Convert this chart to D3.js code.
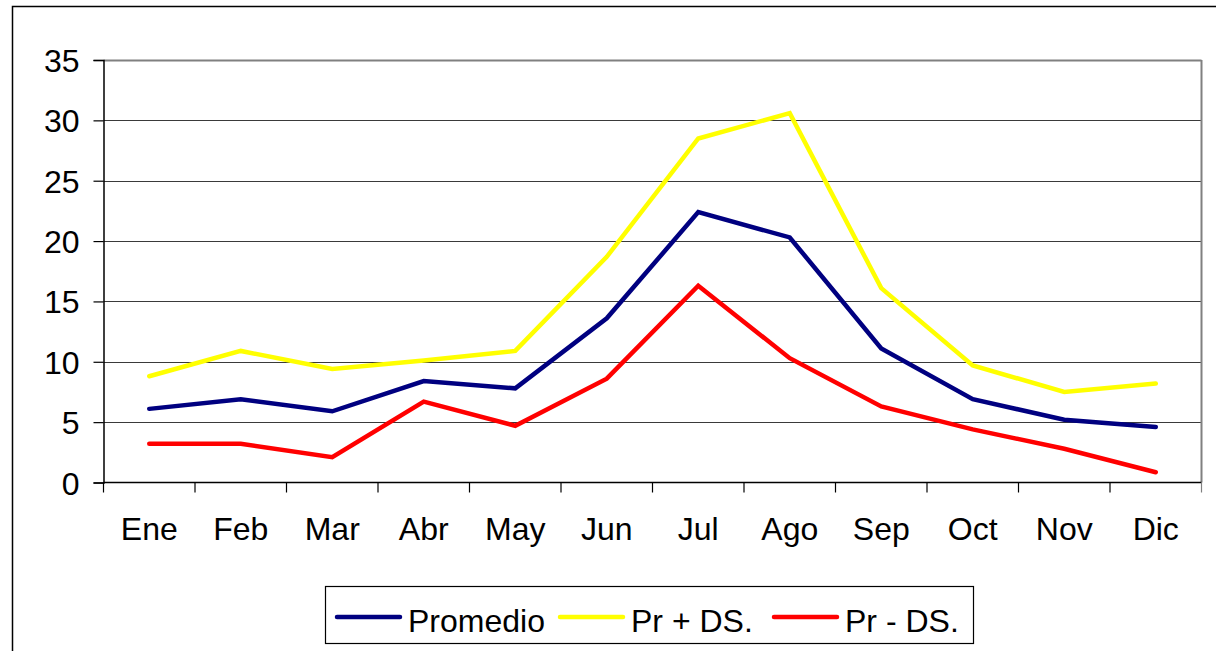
<!DOCTYPE html>
<html>
<head>
<meta charset="utf-8">
<script src="https://cdn.jsdelivr.net/npm/d3@7"></script>
<style>
  html, body { margin: 0; padding: 0; background: #fff; }
  svg { display: block; font-family: "Liberation Sans", Arial, sans-serif; }
</style>
</head>
<body>
<div id="chart"></div>
<script>
// data
const months = ["Ene", "Feb", "Mar", "Abr", "May", "Jun", "Jul", "Ago", "Sep", "Oct", "Nov", "Dic"];
const promedio = [6.1, 6.9, 5.9, 8.4, 7.8, 13.6, 22.4, 20.3, 11.1, 6.9, 5.2, 4.6];
const prMasDs  = [8.8, 10.9, 9.4, 10.1, 10.9, 18.7, 28.5, 30.6, 16.1, 9.7, 7.5, 8.2];
const prMenosDs = [3.2, 3.2, 2.1, 6.7, 4.7, 8.6, 16.3, 10.3, 6.3, 4.4, 2.8, 0.85];
const yTicks = [0, 5, 10, 15, 20, 25, 30, 35];

const series = [
  { name: "Promedio", values: promedio, color: "#000080" },
  { name: "Pr + DS.", values: prMasDs, color: "#ffff00" },
  { name: "Pr - DS.", values: prMenosDs, color: "#ff0000" }
];

const width = 1216, height = 651;
const plot = { left: 103.5, right: 1201.5, top: 60, bottom: 482.5 };

const svg = d3.select("#chart").append("svg")
  .attr("width", width)
  .attr("height", height);

// outer chart frame (cut off on the right and bottom in the original)
svg.append("rect")
  .attr("x", 12.5).attr("y", 6.5)
  .attr("width", 1215).attr("height", 660)
  .attr("fill", "none")
  .attr("stroke", "#000")
  .attr("stroke-width", 1.5);

const x = d3.scaleBand()
  .domain(months)
  .range([plot.left, plot.right]);

const y = d3.scaleLinear()
  .domain([0, 35])
  .range([plot.bottom, plot.top]);

// horizontal gridlines
svg.append("g")
  .selectAll("line")
  .data(yTicks.filter(d => d > 0))
  .join("line")
  .attr("x1", plot.left).attr("x2", plot.right)
  .attr("y1", d => Math.round(y(d)) + 0.5)
  .attr("y2", d => Math.round(y(d)) + 0.5)
  .attr("stroke", d => d === 35 ? "#808080" : "#3a3a3a")
  .attr("stroke-width", d => d === 35 ? 2 : 1);

// right border of the plot area
svg.append("line")
  .attr("x1", plot.right).attr("x2", plot.right)
  .attr("y1", plot.top).attr("y2", plot.bottom)
  .attr("stroke", "#808080")
  .attr("stroke-width", 2);

// y axis
const yAxis = svg.append("g")
  .attr("transform", `translate(${plot.left},0)`)
  .call(d3.axisLeft(y).tickValues(yTicks).tickSize(10).tickPadding(14).tickFormat(d3.format("d")));
yAxis.select(".domain").attr("stroke", "#000").attr("stroke-width", 1.5);
yAxis.selectAll(".tick line").attr("stroke", "#000").attr("stroke-width", 1.2);
yAxis.selectAll("text")
  .attr("font-size", 32)
  .attr("font-family", "Liberation Sans, Arial, sans-serif")
  .attr("fill", "#000")
  .attr("dy", "0.36em");

// x axis: ticks sit between the categories
const xAxis = svg.append("g").attr("transform", `translate(0,${plot.bottom})`);
xAxis.append("line")
  .attr("x1", plot.left).attr("x2", plot.right)
  .attr("stroke", "#000").attr("stroke-width", 1.5);
xAxis.selectAll("line.tick")
  .data(months.concat(["end"]))
  .join("line")
  .attr("class", "tick")
  .attr("x1", (d, i) => plot.left + i * x.bandwidth())
  .attr("x2", (d, i) => plot.left + i * x.bandwidth())
  .attr("y1", 0).attr("y2", 10)
  .attr("stroke", (d, i) => i === months.length ? "#808080" : "#000")
  .attr("stroke-width", 1.2);
xAxis.selectAll("text")
  .data(months)
  .join("text")
  .attr("x", d => x(d) + x.bandwidth() / 2)
  .attr("y", 57.5)
  .attr("text-anchor", "middle")
  .attr("font-size", 32)
  .attr("fill", "#000")
  .text(d => d);

// series lines
const line = d3.line()
  .x((d, i) => x(months[i]) + x.bandwidth() / 2)
  .y(d => y(d));

svg.append("g")
  .selectAll("path")
  .data(series)
  .join("path")
  .attr("d", d => line(d.values))
  .attr("fill", "none")
  .attr("stroke", d => d.color)
  .attr("stroke-width", 4.5)
  .attr("stroke-linejoin", "miter")
  .attr("stroke-linecap", "round");

// legend
const legend = svg.append("g");
legend.append("rect")
  .attr("x", 325.5).attr("y", 586.5)
  .attr("width", 648).attr("height", 57)
  .attr("fill", "#fff")
  .attr("stroke", "#000")
  .attr("stroke-width", 1.2);

const legendX = [337, 560, 774];
const item = legend.selectAll("g.item")
  .data(series)
  .join("g")
  .attr("class", "item")
  .attr("transform", (d, i) => `translate(${legendX[i]},617)`);
item.append("line")
  .attr("x1", 0).attr("x2", 63)
  .attr("stroke", d => d.color)
  .attr("stroke-width", 4.5)
  .attr("stroke-linecap", "round");
item.append("text")
  .attr("x", 71)
  .attr("y", 5)
  .attr("font-size", 32)
  .attr("dy", "0.3em")
  .attr("fill", "#000")
  .text(d => d.name);
</script>
</body>
</html>
